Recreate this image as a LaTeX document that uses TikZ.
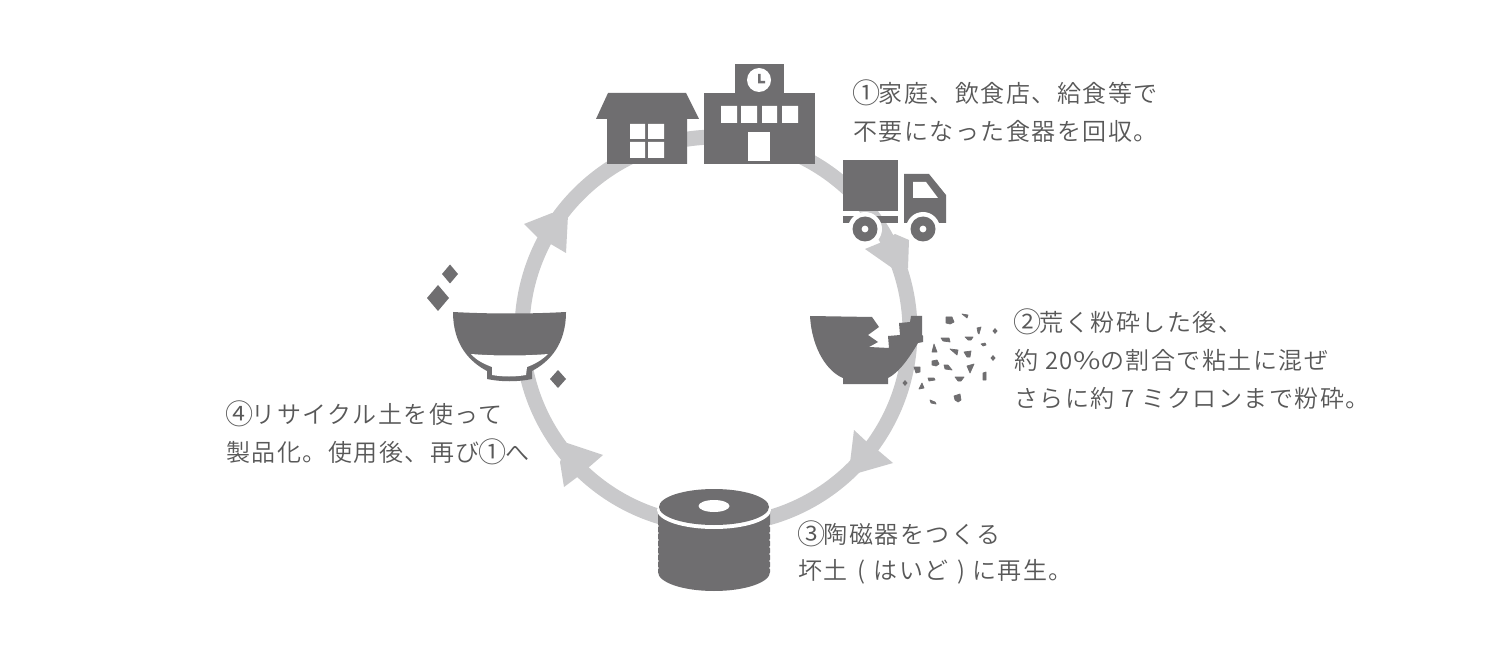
\documentclass[tikz,border=0pt]{standalone}
\usepackage{fontspec}
\newfontfamily\jp[LetterSpace=6.2]{Noto Sans CJK JP DemiLight}
\definecolor{ink}{HTML}{6F6E70}
\definecolor{ringc}{HTML}{C9C9CB}
\definecolor{txt}{HTML}{585858}
\newcommand{\cnum}[1]{\makebox[14.5pt][c]{\fontsize{16}{16}\selectfont\raisebox{-0.6pt}{#1}}}
\tikzset{
  ink/.style={fill=ink,draw=none},
  hole/.style={fill=white,draw=none},
  frag/.style={fill=ink,draw=ink,line width=0.4pt,line join=round},
  arrowhead/.style={fill=ringc,draw=none},
  label/.style={anchor=west,inner sep=0pt,text=txt,font=\jp\fontsize{13.66}{16}\selectfont},
}
\begin{document}
\begin{tikzpicture}[x=0.02cm,y=-0.02cm]
\useasboundingbox (0,0) rectangle (1500,665);
\fill[white] (0,0) rectangle (1500,665);
% ring
\coordinate (c) at (716,331);
\draw[ringc,line width=0.3cm] (c) circle (194);
% arrowheads
\fill[arrowhead] (865,249)--(882,242)--(895,234)--(909,240)--(908,268)--(895,270)--cycle;
\fill[arrowhead] (854,430)--(868,443)--(880,452)--(893,463)--(858,473)--(850,463)--cycle;
\fill[arrowhead] (603,455)--(588,468)--(576,478)--(564,487)--(560,462)--(567,443)--cycle;
\fill[arrowhead] (524,224)--(552,213)--(568,215)--(566,253)--(549,243)--(537,237)--cycle;
% house
\fill[ink] (608,93)--(686,93)--(699,119)--(687,119)--(687,164)--(607,164)--(607,119)--(596,119)--cycle;
\fill[hole] (630,124) rectangle (645,139) (648,124) rectangle (664,139) (630,142) rectangle (645,158) (648,142) rectangle (664,158);
% school
\fill[ink] (704,93) rectangle (815,164);
\fill[ink] (735,64) rectangle (784,93);
\fill[hole] (759,80) circle (12);
\fill[ink] (758,74) rectangle (760.5,83) (758,81) rectangle (765,83.5);
\fill[hole] (721,106) rectangle (737,123) (741,106) rectangle (757,123) (762,106) rectangle (777,123) (782,106) rectangle (798,123);
\fill[hole] (748,132) rectangle (770,161);
% truck
\fill[ink] (843,160) rectangle (898,211);
\fill[ink] (843,216) rectangle (898,223);
\fill[ink] (904,174)--(929,174)--(946,195)--(946,223)--(904,223)--cycle;
\fill[hole] (913,182)--(926,182)--(938,198)--(913,198)--cycle;
\fill[hole] (865,229) circle (17) (923,229) circle (17);
\fill[ink] (865,229) circle (12.5) (923,229) circle (12.5);
\fill[hole] (865,229) circle (3.4) (923,229) circle (3.4);
% broken bowl
\fill[ink] (810,316)--(872,317)--(879,327)--(868,335)--(878,342)--(869,347)--(889,348)--(888,336)--(900,335)--(899,323)--(910,322)--(911,316)--(922,316)--(922,335)--(923,336)--(923,342)--(918,343)
  .. controls (905,365) and (896,374) .. (888,378)--(888,384)--(843,384)--(843,378)
  .. controls (828,372) and (812,350) .. (810,316)--cycle;
% fragments
\foreach \x/\y in {995/331,993/358,905/383}
  \fill[ink,shift={(\x,\y)}] (-2.5,0)--(0,-3)--(2.5,0)--(0,3)--cycle;
\filldraw[frag] (946,317)--(952,317)--(954,322)--(950,324)--(946,323)--cycle;
\filldraw[frag] (962,314)--(968,315)--(967,318)--cycle;
\filldraw[frag] (977,328)--(981,327)--(979,334)--(978,333)--cycle;
\filldraw[frag] (941,338)--(949,338)--(950,342)--(943,341)--cycle;
\filldraw[frag] (965,337)--(973,337)--(971,340)--(968,340)--cycle;
\filldraw[frag] (981,344)--(985,343)--(986,345)--(983,346)--cycle;
\filldraw[frag] (932,352)--(934,344)--(937,352)--cycle;
\filldraw[frag] (950,349)--(958,350)--(957,355)--cycle;
\filldraw[frag] (964,352)--(971,351)--(970,357)--(967,357)--cycle;
\filldraw[frag] (932,361)--(937,360)--(939,364)--(936,366)--(932,365)--cycle;
\filldraw[frag] (944,365)--(948,365)--(952,370)--(945,369)--cycle;
\filldraw[frag] (967,366)--(974,364)--(970,373)--cycle;
\filldraw[frag] (914,367)--(920,367)--(920,372)--(916,373)--cycle;
\filldraw[frag] (928,378)--(934,378)--(935,380)--(929,381)--cycle;
\filldraw[frag] (955,377)--(964,377)--(961,381)--(958,381)--cycle;
\filldraw[frag] (983,373)--(986,372)--(986,380)--(983,380)--cycle;
\filldraw[frag] (919,389)--(922,383)--(924,388)--cycle;
\filldraw[frag] (930,400)--(935,402)--(936,404)--(931,403)--cycle;
\filldraw[frag] (954,396)--(960,394)--(961,400)--(958,402)--(955,400)--cycle;
% cylinder
\fill[ink] (658,510)--(770,510)--(770,572) arc[start angle=0,end angle=180,x radius=56,y radius=19]--cycle;
\foreach \y in {526,533,540,547,554,561,568}
  \fill[hole] (657.5,\y) circle (1.3) (770.5,\y) circle (1.3);
\fill[hole] (714,510) ellipse (57 and 19);
\fill[ink] (714,507) ellipse (55 and 18);
\fill[hole] (714,506) ellipse (15.5 and 6);
% restored bowl
\fill[ink] (453,312) .. controls (490,314) and (530,314) .. (566,312)
  .. controls (566,345) and (549,362) .. (532,371)--(532,379)
  .. controls (518,382) and (501,382) .. (487,379)--(487,371)
  .. controls (470,362) and (453,345) .. (453,312)--cycle;
\fill[hole] (471,354) .. controls (495,356) and (525,356) .. (548,354)
  .. controls (542,360) and (535,364) .. (527,367)--(526,375)
  .. controls (515,377) and (503,377) .. (492,375)--(492,367)
  .. controls (484,364) and (476,360) .. (471,354)--cycle;
\fill[ink] (442,274) -- (450,264.5) -- (458,274) -- (450,283.5)--cycle;
\fill[ink] (427,298) -- (438,285) -- (449,298) -- (438,311)--cycle;
\fill[ink] (550,379) -- (558,370) -- (566,379) -- (558,388)--cycle;
% text
\node[label] (t1a) at (853,93) {\cnum{①}家庭、飲食店、給食等で};
\node[label] (t1b) at (853,131) {不要になった食器を回収。};
\node[label] (t2a) at (1014,322) {\cnum{②}荒く粉砕した後、};
\node[label] (t2b) at (1014,360) {約 20\scalebox{1.25}[1]{\%}の割合で粘土に混ぜ};
\node[label] (t2c) at (1014,398) {さらに約 7 ミクロンまで粉砕。};
\node[label] (t3a) at (798,534) {\cnum{③}陶磁器をつくる};
\node[label] (t3b) at (798,572) {坏土\hspace{1.5pt} (\hspace{1pt} はいど\hspace{1pt} ) に再生。};
\node[label] (t4a) at (226,414) {\cnum{④}リサイクル土を使って};
\node[label] (t4b) at (226,452) {製品化。使用後、再び\cnum{①}へ};
\end{tikzpicture}
\end{document}
